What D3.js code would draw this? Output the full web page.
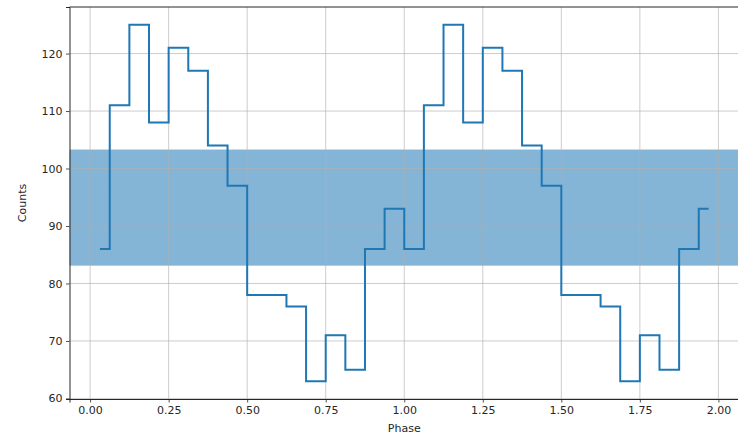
<!DOCTYPE html>
<html>
<head>
<meta charset="utf-8">
<script src="https://cdn.jsdelivr.net/npm/d3@7"></script>
<style>
  body { margin: 0; background: #fff; }
  svg text { font-family: "DejaVu Sans", sans-serif; fill: #262626; }
</style>
</head>
<body>
<div id="chart"></div>
<script>
// phase bin centres, two cycles of 16 bins
const phase = [
  0.03125, 0.09375, 0.15625, 0.21875, 0.28125, 0.34375, 0.40625, 0.46875,
  0.53125, 0.59375, 0.65625, 0.71875, 0.78125, 0.84375, 0.90625, 0.96875,
  1.03125, 1.09375, 1.15625, 1.21875, 1.28125, 1.34375, 1.40625, 1.46875,
  1.53125, 1.59375, 1.65625, 1.71875, 1.78125, 1.84375, 1.90625, 1.96875
];
const counts = [
  86, 111, 125, 108, 121, 117, 104, 97, 78, 78, 76, 63, 71, 65, 86, 93,
  86, 111, 125, 108, 121, 117, 104, 97, 78, 78, 76, 63, 71, 65, 86, 93
];
const band = [83.1, 103.3];
const xTicks = [0, 0.25, 0.5, 0.75, 1.0, 1.25, 1.5, 1.75, 2.0];
const yTicks = [60, 70, 80, 90, 100, 110, 120];

const W = 738, H = 438;
const margin = {top: 7, right: -1, bottom: 39, left: 69.5};
const w = W - margin.left - margin.right,
      h = H - margin.top - margin.bottom;

const svg = d3.select("#chart").append("svg")
    .attr("width", W)
    .attr("height", H);

const g = svg.append("g")
    .attr("transform", "translate(" + margin.left + "," + margin.top + ")");

const x = d3.scaleLinear().domain([-0.0656, 2.0656]).range([0, w]);
const y = d3.scaleLinear().domain([59.9, 128.1]).range([h, 0]);

// span band
g.append("rect")
    .attr("x", 0)
    .attr("width", w)
    .attr("y", y(band[1]))
    .attr("height", y(band[0]) - y(band[1]))
    .attr("fill", "#1f77b4")
    .attr("fill-opacity", 0.55);

// grid
g.append("g").selectAll("line").data(xTicks).join("line")
    .attr("x1", d => x(d)).attr("x2", d => x(d))
    .attr("y1", 0).attr("y2", h)
    .attr("stroke", "#b0b0b0").attr("stroke-opacity", 0.8).attr("stroke-width", 0.8);
g.append("g").selectAll("line").data(yTicks).join("line")
    .attr("x1", 0).attr("x2", w)
    .attr("y1", d => y(d)).attr("y2", d => y(d))
    .attr("stroke", "#b0b0b0").attr("stroke-opacity", 0.8).attr("stroke-width", 0.8);

// step line (mid)
const line = d3.line()
    .x((d, i) => x(phase[i]))
    .y(d => y(d))
    .curve(d3.curveStep);

g.append("path")
    .datum(counts)
    .attr("d", line)
    .attr("fill", "none")
    .attr("stroke", "#1f77b4")
    .attr("stroke-width", 2);

// axes
const xAxis = g.append("g")
    .attr("transform", "translate(0," + h + ")")
    .call(d3.axisBottom(x).tickValues(xTicks).tickFormat(d3.format(".2f")).tickSizeOuter(0).tickSize(3.5).tickPadding(3.5));
const yAxis = g.append("g")
    .call(d3.axisLeft(y).tickValues(yTicks).tickSizeOuter(0).tickSize(3.5).tickPadding(3.5));

[xAxis, yAxis].forEach(a => {
  a.select(".domain").attr("stroke", "#262626").attr("stroke-width", 1);
  a.selectAll(".tick line").attr("stroke", "#262626").attr("stroke-width", 0.8);
  a.selectAll(".tick text").attr("font-size", 11).attr("fill", "#262626");
});

// top spine
g.append("line")
    .attr("x1", 0).attr("x2", w).attr("y1", 0).attr("y2", 0)
    .attr("stroke", "#262626").attr("stroke-width", 1);

g.append("text")
    .attr("x", x(1.0))
    .attr("y", h + 33)
    .attr("text-anchor", "middle")
    .attr("font-size", 11)
    .text("Phase");

g.append("text")
    .attr("transform", "translate(" + (-44) + "," + (h / 2) + ") rotate(-90)")
    .attr("text-anchor", "middle")
    .attr("font-size", 11)
    .text("Counts");
</script>
</body>
</html>
